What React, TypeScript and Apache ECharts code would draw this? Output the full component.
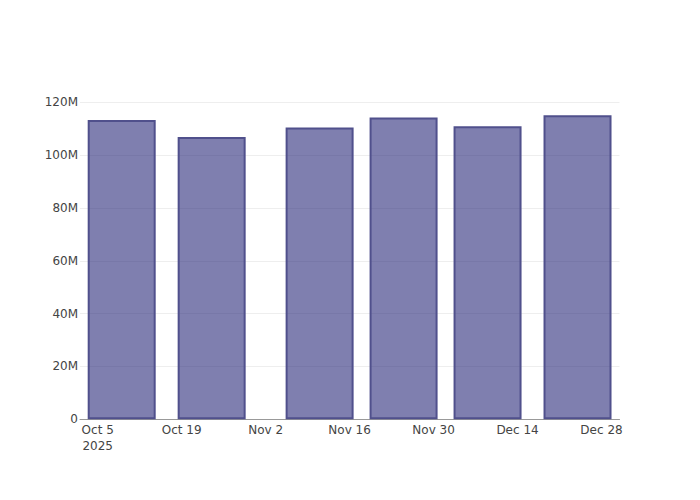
import { useEffect, useRef } from "react";
import * as echarts from "echarts";

const barDates = ["2025-10-09", "2025-10-24", "2025-11-11", "2025-11-25", "2025-12-09", "2025-12-24"];
const barValues = [113.3e6, 106.9e6, 110.5e6, 114.2e6, 110.9e6, 115.1e6];

const tickDates = ["2025-10-05", "2025-10-19", "2025-11-02", "2025-11-16", "2025-11-30", "2025-12-14", "2025-12-28"];
const tickLabels = ["Oct 5\n2025", "Oct 19", "Nov 2", "Nov 16", "Nov 30", "Dec 14", "Dec 28"];

const rangeStart = "2025-10-02T01:10:00Z";
const rangeEnd = "2025-12-31T00:00:00Z";

const ts = (s: string) => new Date(s.length === 10 ? s + "T00:00:00Z" : s).getTime();

export default function App() {
  const chartRef = useRef<HTMLDivElement>(null);

  useEffect(() => {
    if (!chartRef.current) return;
    const chart = echarts.init(chartRef.current, null, { renderer: "svg" });

    const tickTs = tickDates.map(ts);
    const font = "DejaVu Sans";

    chart.setOption({
      animation: false,
      textStyle: { fontFamily: font },
      grid: { left: 80, right: 80.5, top: 102.3, bottom: 80.7, containLabel: false },
      xAxis: {
        type: "value",
        min: ts(rangeStart),
        max: ts(rangeEnd),
        axisLine: { show: true, lineStyle: { color: "#999", width: 1 } },
        axisTick: { show: false },
        splitLine: { show: false },
        axisLabel: {
          customValues: tickTs,
          color: "#444",
          fontSize: 12,
          fontFamily: font,
          margin: 3,
          lineHeight: 16,
          verticalAlign: "top",
          formatter: (v: number) => {
            const i = tickTs.indexOf(v);
            return i >= 0 ? tickLabels[i] : "";
          },
        },
      },
      yAxis: {
        type: "value",
        min: 0,
        max: 120e6,
        interval: 20e6,
        axisLine: { show: false },
        axisTick: { show: false },
        splitLine: { show: true, lineStyle: { color: "#eee", width: 1 } },
        axisLabel: {
          color: "#444",
          fontSize: 12,
          fontFamily: font,
          margin: 2,
          formatter: (v: number) => (v === 0 ? "0" : `${v / 1e6}M`),
        },
      },
      series: [
        {
          type: "bar",
          barWidth: 68,
          data: barDates.map((d, i) => [ts(d), barValues[i]]),
          itemStyle: {
            color: "rgba(42, 42, 122, 0.6)",
            borderColor: "#50508c",
            borderWidth: 2,
          },
        },
      ],
    });

    return () => {
      chart.dispose();
    };
  }, []);

  return <div ref={chartRef} style={{ width: 700, height: 500, margin: -8 }} />;
}
